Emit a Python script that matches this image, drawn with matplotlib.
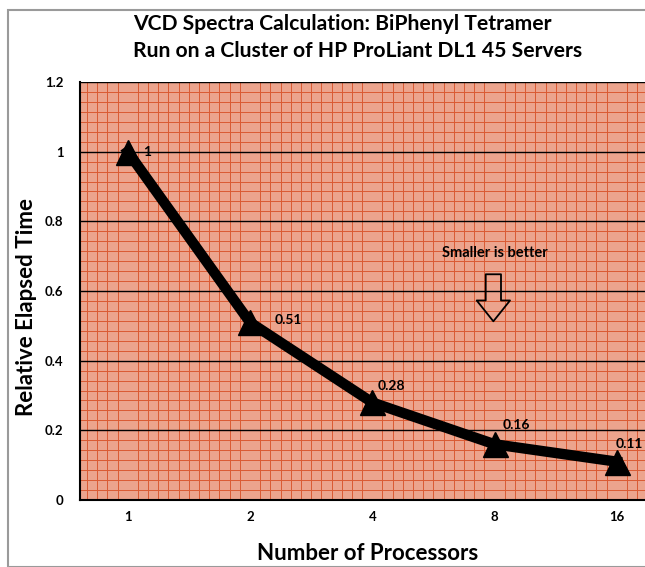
import matplotlib
matplotlib.use("Agg")
import matplotlib.pyplot as plt
from matplotlib.ticker import MultipleLocator
from matplotlib.patches import Rectangle

# data
processors = ["1", "2", "4", "8", "16"]
relative_time = [1.0, 0.51, 0.28, 0.16, 0.11]
point_labels = ["1", "0.51", "0.28", "0.16", "0.11"]
y_ticks = [0, 0.2, 0.4, 0.6, 0.8, 1, 1.2]
y_tick_labels = ["0", "0.2", "0.4", "0.6", "0.8", "1", "1.2"]

# where each value label sits relative to its point (points)
label_offsets = [(11, 0), (18, 2), (4, 12), (6, 14), (-1, 13)]

plt.rcParams['font.family'] = ['Lato', 'DejaVu Sans']

fig = plt.figure(figsize=(6.45, 5.67), dpi=100)
ax = fig.add_axes([80 / 645, 1 - 500 / 567, 565 / 645, 418 / 567])

# grey frame around the whole chart
fig.patches.append(Rectangle((8 / 645, 0), 1.0, 1 - 10 / 567, transform=fig.transFigure,
                             fill=False, edgecolor='#9a9a9a', linewidth=1.5))

ax.set_facecolor('#ECA48D')
x = list(range(len(processors)))
ax.set_xlim(-0.39, 4.23)
ax.set_ylim(0, 1.185)

ax.xaxis.set_minor_locator(MultipleLocator(1 / 12))
ax.yaxis.set_minor_locator(MultipleLocator(0.2 / 7))
ax.grid(which='minor', color='#DA5A33', linewidth=0.7)
ax.yaxis.grid(which='major', color='black', linewidth=1.0)
ax.set_axisbelow(True)

ax.plot(x, relative_time, color='black', linewidth=7.5, marker='^', markersize=18,
        solid_joinstyle='miter', zorder=3)
for xi, yi, lab, off in zip(x, relative_time, point_labels, label_offsets):
    ax.annotate(lab, (xi, yi), xytext=off, textcoords='offset points',
                fontsize=10, fontweight='bold', va='center', ha='left')

ax.set_xticks(x)
ax.set_xticklabels(processors, fontsize=9.5, fontweight='bold')
ax.set_yticks(y_ticks)
ax.set_yticklabels(y_tick_labels, fontsize=9.5, fontweight='bold')
ax.tick_params(which='both', length=0)
ax.tick_params(axis='x', pad=8)
ax.tick_params(axis='y', pad=12)

for side in ['top', 'right']:
    ax.spines[side].set_visible(False)
ax.spines['left'].set_linewidth(1.5)
ax.spines['bottom'].set_linewidth(1.5)

fig.text(368 / 645, 1 - 553 / 567, 'Number of Processors', ha='center', va='center',
         fontsize=16, fontweight='bold')
fig.text(27 / 645, 1 - 307 / 567, 'Relative Elapsed Time', ha='center', va='center',
         rotation=90, fontsize=16, fontweight='bold')

fig.text(0.531, 1 - 30 / 567, 'VCD Spectra Calculation: BiPhenyl Tetramer',
         ha='center', va='baseline', fontsize=15.2, fontweight='bold')
fig.text(0.554, 1 - 57 / 567, 'Run on a Cluster of HP ProLiant DL1 45 Servers',
         ha='center', va='baseline', fontsize=15.2, fontweight='bold')

ax.text(3.0, 0.708, 'Smaller is better', ha='center', va='center', fontsize=10.5,
        fontweight='bold')
ax.annotate('', xy=(2.99, 0.513), xytext=(2.99, 0.648),
            arrowprops=dict(arrowstyle='simple,head_width=2.4,head_length=1.5,tail_width=1.1',
                            facecolor='none', edgecolor='black', linewidth=1.3,
                            shrinkA=0, shrinkB=0))

fig.savefig('out.png', dpi=100)
